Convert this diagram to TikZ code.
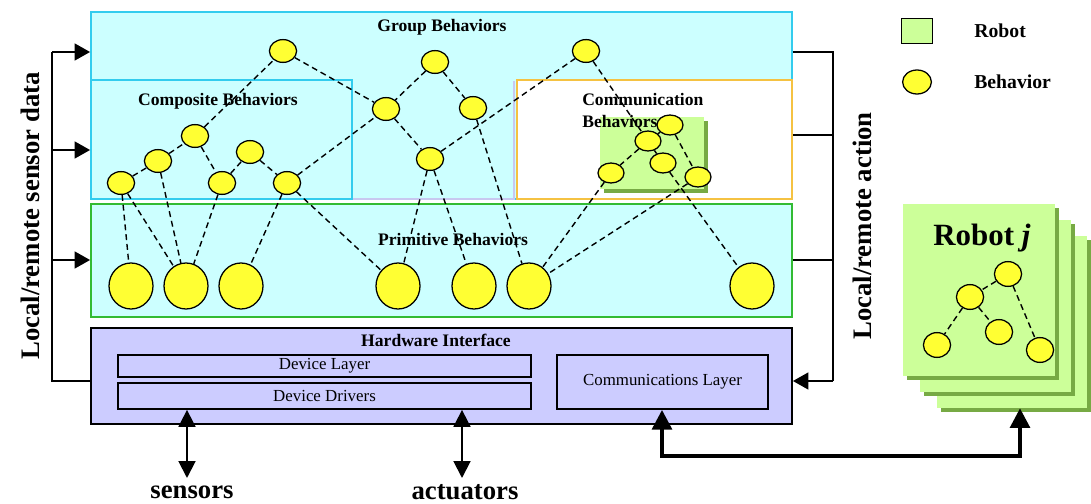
\documentclass[tikz,border=0pt]{standalone}
\usepackage{fontspec}
\setmainfont{Liberation Serif}
\usetikzlibrary{arrows.meta}
\usetikzlibrary{positioning}
\usetikzlibrary{shapes.geometric}
\usetikzlibrary{fit}
\usetikzlibrary{shadows}
\definecolor{cyanbg}{HTML}{CCFFFF}
\definecolor{grpline}{HTML}{33CCEE}
\definecolor{primline}{HTML}{33BB33}
\definecolor{commline}{HTML}{F5C242}
\definecolor{lavline}{HTML}{C8C8F0}
\definecolor{hwfill}{HTML}{CCCCFF}
\definecolor{robotfill}{HTML}{CCFF99}
\definecolor{robotshade}{HTML}{77AA44}
\definecolor{behfill}{HTML}{FFFF33}

\begin{document}
\begin{tikzpicture}[x=0.025cm, y=-0.025cm,
    layer/.style={inner sep=0pt, line width=1.3pt},
    hwtext/.style={font=\fontsize{12}{14}\selectfont},
    lbl/.style={inner sep=0pt, font=\fontsize{12.5}{15.5}\selectfont\bfseries},
    biglbl/.style={inner sep=0pt, font=\fontsize{19}{22}\selectfont\bfseries},
    beh/.style={ellipse, draw, line width=0.9pt, fill=behfill, inner sep=0pt,
      minimum width=0.68cm, minimum height=0.57cm},
    smallbeh/.style={beh, minimum width=0.65cm, minimum height=0.5cm},
    primbeh/.style={beh, minimum width=1.1cm, minimum height=1.15cm},
    rpage/.style={inner sep=0pt, fill=robotfill,
      drop shadow={shadow xshift=2.5pt, shadow yshift=-2.5pt, fill=robotshade, opacity=1}},
    dashedge/.style={dash pattern=on 4.2pt off 2.8pt, line width=1pt},
    link/.style={line width=1.4pt},
    arr/.style={link, -{Triangle[width=12pt, length=11pt]}},
    dblarr/.style={link, {Triangle[width=12pt, length=12pt]}-{Triangle[width=12pt, length=12pt]}},
    commarr/.style={line width=2.8pt, {Triangle[width=14pt, length=14pt]}-{Triangle[width=14pt, length=14pt]}}
  ]
  \useasboundingbox (0,0) rectangle (1091,504);

  \node[layer, fit={(91,12) (792,199)}, draw=grpline, fill=cyanbg] (grp) {};
  \node[layer, fit={(91,80) (352,199)}, draw=grpline, fill=cyanbg] (comp) {};
  \node[layer, fit={(517,80) (792,199)}, draw=commline, fill=white] (comm) {};
  \draw[line width=1.3pt, lavline] (353,199) -- (514,199) -- (514,81);
  \node[rpage, fit={(600,117) (704,189)}] (crob) {};
  \node[layer, fit={(91,204) (792,317)}, draw=primline, fill=cyanbg] (prim) {};
  \node[layer, fit={(91,328) (792,424)}, draw, fill=hwfill] (hw) {};
  \node[layer, fit={(118,355) (531,377)}, draw, label={[hwtext]center:Device Layer}] (dl) {};
  \node[layer, fit={(118,383) (531,409)}, draw, label={[hwtext]center:Device Drivers}] (dd) {};
  \node[layer, fit={(557,355) (768,409)}, draw, label={[hwtext]center:Communications Layer}] (cl) {};

  \node[lbl] (grplbl) at (442,27) {Group Behaviors};
  \node[lbl] (complbl) at (218,101) {Composite Behaviors};
  \node[lbl, align=left, anchor=north west] (commlbl) at (582,93) {Communication\\Behaviors};
  \node[lbl] (primlbl) at (453,239) {Primitive Behaviors};
  \node[lbl] (hwlbl) at (436,340) {Hardware Interface};

  \node[beh] (g1) at (283,51) {};
  \node[beh] (g2) at (435,62) {};
  \node[beh] (g3) at (386,109) {};
  \node[beh] (g4) at (473,108) {};
  \node[beh] (g5) at (430,159) {};
  \node[beh] (g6) at (586,51) {};
  \node[beh] (c1) at (121,183) {};
  \node[beh] (c2) at (158,161) {};
  \node[beh] (c3) at (195,136) {};
  \node[beh] (c4) at (222,183) {};
  \node[beh] (c5) at (250,152) {};
  \node[beh] (c6) at (287,183) {};
  \node[smallbeh] (m1) at (670,125) {};
  \node[smallbeh] (m2) at (648,141) {};
  \node[smallbeh] (m3) at (611,173) {};
  \node[smallbeh] (m4) at (663,163) {};
  \node[smallbeh] (m5) at (698,177) {};
  \node[primbeh] (p1) at (131,286) {};
  \node[primbeh] (p2) at (186,286) {};
  \node[primbeh] (p3) at (241,286) {};
  \node[primbeh] (p4) at (398,286) {};
  \node[primbeh] (p5) at (474,286) {};
  \node[primbeh] (p6) at (529,286) {};
  \node[primbeh] (p7) at (752,286) {};

  \foreach \a/\b in {c1/c2, c2/c3, c3/g1, c3/c4, c4/c5, c5/c6, c6/g3, g1/g3, g2/g3, g2/g4,
      g3/g5, g5/g6, g6/m2, m1/m2, m2/m3, m2/m4, m1/m5, c1/p1, c1/p2, c2/p2, c4/p2, c6/p3,
      c6/p4, g5/p4, g5/p5, g4/p6, m3/p6, m5/p6, m4/p7}
    \draw[dashedge] (\a) -- (\b);

  \node[rpage, fit={(937,236) (1087,408)}] (rb3) {};
  \node[rpage, fit={(920,220) (1071,392)}] (rb2) {};
  \node[rpage, fit={(903,204) (1055,376)}] (rb1) {};
  \node[inner sep=0pt, font=\fontsize{22}{26}\selectfont\bfseries] (rj) at (982,238) {Robot \textit{j}};
  \node[beh, minimum height=0.62cm] (r1) at (1008,274) {};
  \node[beh, minimum height=0.62cm] (r2) at (970,297) {};
  \node[beh, minimum height=0.62cm] (r3) at (937,345) {};
  \node[beh, minimum height=0.62cm] (r4) at (999,332) {};
  \node[beh, minimum height=0.62cm] (r5) at (1040,350) {};
  \foreach \a/\b in {r1/r2, r2/r3, r2/r4, r1/r5}
    \draw[dashedge] (\a) -- (\b);

  \node[draw, line width=1pt, fill=robotfill, minimum width=0.78cm, minimum height=0.62cm] (lgrob) at (917,31) {};
  \node[beh, minimum width=0.72cm, minimum height=0.6cm] (lgbeh) at (917,82) {};
  \node[inner sep=0pt, font=\fontsize{14}{16}\selectfont\bfseries, anchor=west, right=1.02cm of lgrob] (lgroblbl) {Robot};
  \node[inner sep=0pt, font=\fontsize{14}{16}\selectfont\bfseries, anchor=west, right=1.05cm of lgbeh] (lgbehlbl) {Behavior};

  \node[biglbl, rotate=90] (sdlbl) at (30,216) {Local/remote sensor data};
  \node[biglbl, rotate=90] (actlbl) at (862,226) {Local/remote action};

  \coordinate (lt) at (52,52);
  \coordinate (lm) at (52,150);
  \coordinate (lb) at (52,260);
  \coordinate (lh) at (52,381);
  \draw[link] (lt) -- (lh) -- (lh -| hw.west);
  \draw[arr] (lt) -- (lt -| grp.west);
  \draw[arr] (lm) -- (lm -| comp.west);
  \draw[arr] (lb) -- (lb -| prim.west);

  \coordinate (rt) at (833,52);
  \coordinate (rm) at (833,135);
  \coordinate (rb) at (833,260);
  \coordinate (rh) at (833,381);
  \draw[link] (rt -| grp.east) -- (rt) -- (rh);
  \draw[link] (rm -| comm.east) -- (rm);
  \draw[link] (rb -| prim.east) -- (rb);
  \draw[arr] (rh) -- (rh -| hw.east);

  \node[biglbl] (sens) at (192,492) {sensors};
  \node[biglbl] (act) at (465,492) {actuators};
  \coordinate (sa) at (187,478);
  \coordinate (aa) at (462,478);
  \draw[dblarr] (dd.south -| sa) -- (sa);
  \draw[dblarr] (dd.south -| aa) -- (aa);

  \coordinate (k1) at (662,456);
  \coordinate (k2) at (1020,456);
  \draw[commarr] (cl.south -| k1) -- (k1) -- (k2) -- (rb3.south -| k2);
\end{tikzpicture}
\end{document}
